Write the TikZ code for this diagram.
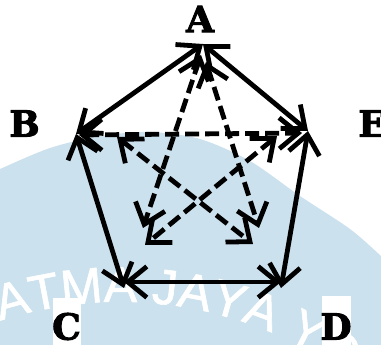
\documentclass[tikz,border=0pt]{standalone}
\usepackage{fontspec}
\newfontfamily\lblfont[BoldFeatures={FakeBold=2.5}]{DejaVu Serif}
\newfontfamily\wmfont[FakeBold=1.2]{Liberation Sans}
\usetikzlibrary{arrows.meta,decorations.text}
\definecolor{wmblue}{RGB}{204,225,238}
\begin{document}
\begin{tikzpicture}[x=1pt,y=-1pt,
  edge/.style={line width=4.8pt, {Straight Barb[length=19pt,width=31pt]}-{Straight Barb[length=19pt,width=31pt]}},
  diag/.style={edge, dash pattern=on 14pt off 6pt},
  lbl/.style={font=\lblfont\bfseries\fontsize{36}{36}\selectfont, inner sep=0pt}]
\useasboundingbox (0,0) rectangle (381,345);
% watermark
\begin{scope}
\clip (0,0) rectangle (381,345);
\fill[wmblue] plot[smooth] coordinates {(-5,172) (0,169) (50,148) (100,136) (150,132) (200,139) (250,161) (300,196) (350,229) (381,256) (390,265)} -- (390,350) -- (-5,350) -- cycle;
\path[decorate, decoration={text along path, text={|\wmfont\fontsize{50}{50}\selectfont|ATMA JAYA YO}, text color=white}] (0.1,320.9) arc[start angle=-107.9, end angle=-20, radius=390];
\end{scope}
\fill[white] (53,298) rectangle (81,345);
\fill[white] (322,296) rectangle (351,345);
% labels
\node[lbl] (la) at (200,19) {A};
\node[lbl] (lb) at (24.5,123.5) {B};
\node[lbl] (le) at (372,123.5) {E};
\node[lbl] (lc) at (66.5,326.5) {C};
\node[lbl] (ld) at (336,326.5) {D};
% vertices
\coordinate (A) at (203,44);
\coordinate (B) at (76,134);
\coordinate (C) at (124,288);
\coordinate (D) at (281,288);
\coordinate (E) at (308,131);
% inner ends
\coordinate (ac1) at (201,55);
\coordinate (ac2) at (143,228);
\coordinate (ad1) at (206,62);
\coordinate (ad2) at (259,228);
\coordinate (bd1) at (117,137);
\coordinate (bd2) at (253,244);
\coordinate (ce1) at (277,136);
\coordinate (ce2) at (145,245);
% outer edges
\draw[edge] (A) -- (B);
\draw[edge] (A) -- (E);
\draw[edge] (B) -- (C);
\draw[edge] (E) -- (D);
\draw[edge] ([yshift=6pt]C) -- ([yshift=6pt]D);
% diagonals
\draw[diag, shorten <=3pt, shorten >=6pt] ([yshift=-1pt]B) -- ([yshift=-2pt]E);
\draw[diag] (ac1) -- (ac2);
\draw[diag] (ad1) -- (ad2);
\draw[diag] (bd1) -- (bd2);
\draw[diag] (ce1) -- (ce2);
\end{tikzpicture}
\end{document}
